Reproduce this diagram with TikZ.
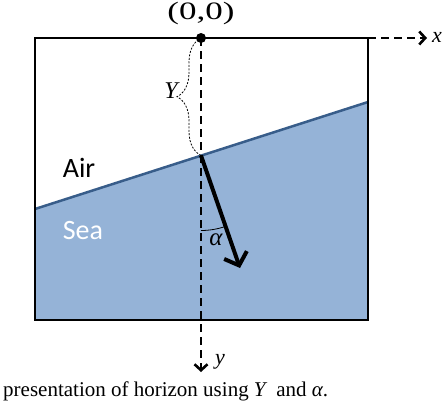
\documentclass[tikz,border=0pt]{standalone}
\usepackage{fontspec}
\setmainfont{Liberation Serif}
\newfontfamily\calib{Carlito}
\usetikzlibrary{arrows.meta,decorations.pathreplacing,calc}
\definecolor{seablue}{RGB}{149,179,215}
\definecolor{horizonblue}{RGB}{56,93,138}

\begin{document}
\begin{tikzpicture}[x=1pt,y=-1pt,
	axis/.style={line width=2.6pt,dash pattern=on 8pt off 5pt},
	axtip/.style={-{Straight Barb[length=6pt,width=13pt]}},
	lbl/.style={inner sep=0pt,font=\fontsize{22}{24}\selectfont\itshape},
	medium/.style={inner sep=0pt,font=\calib\fontsize{28}{30}\selectfont}]
	\useasboundingbox (0,0) rectangle (446,410);
	% box and horizon
	\coordinate (tl) at (35,38);
	\coordinate (br) at (368,320);
	\coordinate (tr) at (br |- tl);
	\coordinate (hl) at (35,209);
	\coordinate (hr) at (368,102);
	\coordinate (o) at (201,38);
	\coordinate (p) at (201,155.5);
	\coordinate (tip) at (240,268);
	\coordinate (ybot) at (201,372);
	\coordinate (xend) at (427,38);
	\coordinate (a1) at (201,230.5);

	\fill[seablue] (hl) -- (hr) -- (br) -- (tl |- br) -- cycle;
	\draw[horizonblue,line width=2.5pt] (hl) -- (hr);
	\draw[line width=2.5pt] (tl) rectangle (br);

	\draw[axis,axtip] (o) -- (ybot);
	\draw[axis,axtip] (tr) -- (xend);
	\fill (o) circle (5pt);

	\draw[line width=4pt,-{Straight Barb[length=11pt,width=24pt]}] (p) -- (tip);
	\draw[line width=0.8pt,dash pattern=on 2pt off 1.5pt,decorate,decoration={brace,amplitude=24pt}] (p) -- (o);
	\draw[line width=0.8pt] (a1) arc[start angle=90,end angle=70.9,radius=75];

	\node[inner sep=0pt,font=\fontsize{25}{27}\selectfont] (olab) at (201,13)
		{\scalebox{1.4}[1]{(0,0)}};
	\node[lbl,font=\fontsize{24}{26}\selectfont\itshape] (Ylab) at (171,91) {Y};
	\node[lbl] (xlab) at (437,37) {x};
	\node[lbl] (ylab) at (220,362) {y};
	\node[lbl,font=\fontsize{25}{26}\selectfont\itshape] (alab) at (216,240) {α};
	\node[medium] (air) at (79,168) {Air};
	\node[medium,white] (sea) at (83,231) {Sea};

	\node[anchor=base west,inner sep=0pt,font=\fontsize{21}{24}\selectfont] (cap) at (3,396)
		{presentation of horizon using \textit{Y}\, and \textit{α}.};
\end{tikzpicture}
\end{document}
